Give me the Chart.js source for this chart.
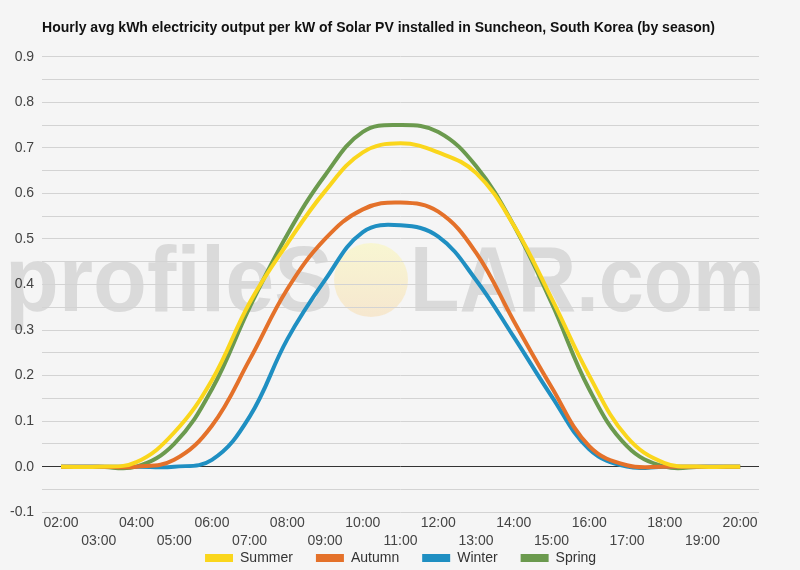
<!DOCTYPE html>
<html>
<head>
<meta charset="utf-8">
<script src="https://cdn.jsdelivr.net/npm/chart.js@4.4.0/dist/chart.umd.min.js"></script>
<style>
  html, body { margin: 0; padding: 0; background: #f5f5f5; }
  #wrap { width: 800px; height: 570px; position: relative; }
</style>
</head>
<body>
<div id="wrap"><canvas id="solarChart"></canvas></div>
<script>
const hours = ['02:00', '03:00', '04:00', '05:00', '06:00', '07:00', '08:00', '09:00', '10:00', '11:00',
  '12:00', '13:00', '14:00', '15:00', '16:00', '17:00', '18:00', '19:00', '20:00'];

const summer = [0, 0, 0.01, 0.075, 0.19, 0.36, 0.49, 0.605, 0.69, 0.71, 0.69, 0.645, 0.53, 0.37, 0.2, 0.065, 0.008, 0, 0];
const autumn = [0, 0, 0, 0.015, 0.09, 0.235, 0.39, 0.5, 0.565, 0.58, 0.56, 0.47, 0.32, 0.175, 0.045, 0.003, 0, 0, 0];
const winter = [0, 0, 0, 0, 0.015, 0.11, 0.28, 0.41, 0.515, 0.53, 0.505, 0.41, 0.285, 0.155, 0.038, 0, 0, 0, 0];
const spring = [0, 0, 0, 0.05, 0.17, 0.35, 0.51, 0.64, 0.735, 0.75, 0.735, 0.66, 0.53, 0.36, 0.17, 0.045, 0, 0, 0];

const yMin = -0.1;
const yMax = 0.9;

const FONT = '"Liberation Sans", Arial, sans-serif';

// Background watermark "profileSOLAR.com" with the sun in place of the O
const watermark = {
  id: 'watermark',
  beforeDraw(chart) {
    const ctx = chart.ctx;
    ctx.save();
    const cx = 371, cy = 280, r = 37;
    const sun = ctx.createLinearGradient(0, cy - r, 0, cy + r);
    sun.addColorStop(0, '#f8f6d2');
    sun.addColorStop(1, '#f6e7cf');
    ctx.fillStyle = sun;
    ctx.beginPath();
    ctx.arc(cx, cy, r, 0, Math.PI * 2);
    ctx.fill();

    ctx.fillStyle = '#dadada';
    ctx.font = 'bold 92px ' + FONT;
    ctx.textBaseline = 'alphabetic';
    ctx.fillText('profileS', 5, 311, 328);
    ctx.fillText('LAR.com', 410, 311, 355);
    ctx.restore();
  }
};

// Legend box is kept short so the axis keeps its room; widen its box upwards
// (the legend clips to its box) so the items land just under the tick labels
const legendNudge = {
  id: 'legendNudge',
  afterLayout(chart) {
    const l = chart.legend;
    if (!l) return;
    l.top -= 24;
    l.bottom += 20;
    l.height = l.bottom - l.top;
  }
};

const makeSet = (label, data, color) => ({
  label: label,
  data: data,
  borderColor: color,
  backgroundColor: color,
  borderWidth: 4,
  pointRadius: 0,
  pointHoverRadius: 0,
  tension: 0.4,
  fill: false
});

const ctx = document.getElementById('solarChart').getContext('2d');
new Chart(ctx, {
  type: 'line',
  data: {
    labels: hours,
    datasets: [
      makeSet('Summer', summer, '#fad61c'),
      makeSet('Autumn', autumn, '#e4712a'),
      makeSet('Winter', winter, '#1f8fc2'),
      makeSet('Spring', spring, '#6b9a4e')
    ]
  },
  options: {
    responsive: true,
    maintainAspectRatio: false,
    animation: false,
    layout: { padding: { left: 2, right: 41, top: 8, bottom: 0 } },
    plugins: {
      title: {
        display: true,
        text: 'Hourly avg kWh electricity output per kW of Solar PV installed in Suncheon, South Korea (by season)',
        align: 'start',
        fullSize: false,
        color: '#111',
        font: { family: FONT, size: 14, weight: 'bold' },
        padding: { top: 12, bottom: 20 }
      },
      legend: {
        position: 'bottom',
        fullSize: false,
        maxHeight: 18,
        labels: {
          color: '#333',
          font: { family: FONT, size: 14 },
          boxWidth: 28,
          boxHeight: 8,
          padding: 23,
          generateLabels(chart) {
            return Chart.defaults.plugins.legend.labels.generateLabels(chart)
              .map(l => ({ ...l, lineWidth: 0 }));
          }
        }
      },
      tooltip: { enabled: false }
    },
    scales: {
      x: {
        offset: true,
        grid: { display: false, drawTicks: false },
        border: { display: false },
        ticks: {
          autoSkip: false,
          maxRotation: 0,
          padding: 1,
          color: '#444',
          font: { family: FONT, size: 14, lineHeight: 1.35 },
          callback: (val, i) => (i % 2 === 0 ? [hours[i], ''] : ['', hours[i]])
        }
      },
      y: {
        min: yMin,
        max: yMax,
        border: { display: false },
        grid: {
          color: (c) => (c.tick && Math.abs(c.tick.value) < 1e-9 ? '#333' : '#d3d3d3'),
          lineWidth: 1,
          drawTicks: false
        },
        ticks: {
          stepSize: 0.05,
          autoSkip: false,
          padding: 8,
          color: '#444',
          font: { family: FONT, size: 14 },
          callback: (v) => {
            const t = v * 10;
            return Math.abs(t - Math.round(t)) < 1e-6 ? v.toFixed(1) : '';
          }
        }
      }
    }
  },
  plugins: [watermark, legendNudge]
});
</script>
</body>
</html>
